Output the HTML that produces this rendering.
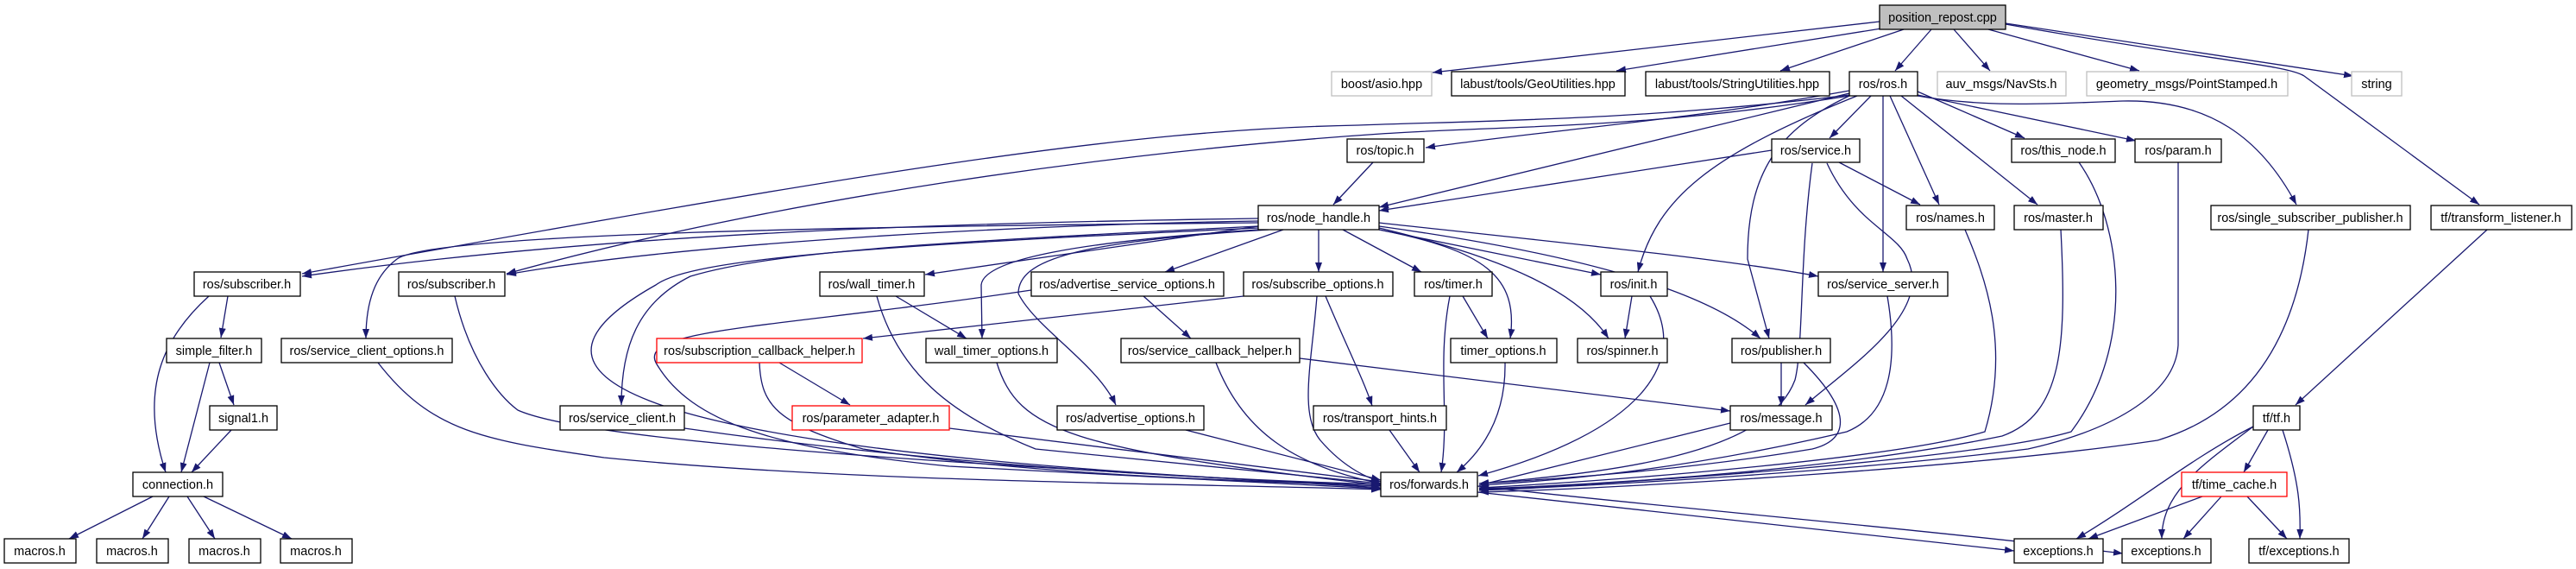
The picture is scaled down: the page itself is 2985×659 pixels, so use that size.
<!DOCTYPE html>
<html><head><meta charset="utf-8"><style>
html,body{margin:0;padding:0;background:#fff;}
svg{display:block;}
text{font-family:"Liberation Sans","DejaVu Sans",sans-serif;font-size:14.5px;fill:#000;text-anchor:middle;}
.e{fill:none;stroke:#191970;stroke-width:1.3;marker-end:url(#a);}
.n rect{fill:#fff;stroke:#000;stroke-width:1.3;}
.g rect{fill:#fff;stroke:#bfbfbf;stroke-width:1.3;}
.r rect{fill:#fff;stroke:#ff0000;stroke-width:1.3;}
</style></head><body>
<svg width="2985" height="659" viewBox="0 0 2985 659" xmlns="http://www.w3.org/2000/svg">
<defs><marker id="a" markerUnits="userSpaceOnUse" markerWidth="11" markerHeight="8" refX="11" refY="4" orient="auto"><path d="M0,0 L11,4 L0,8 z" fill="#191970"/></marker></defs>
<g>
<path class="e" d="M2178,25 L1660,84"/>
<path class="e" d="M2180,33 L1873,82"/>
<path class="e" d="M2206,34 L2063,82"/>
<path class="e" d="M2238,34 L2196,82"/>
<path class="e" d="M2264,34 L2306,82"/>
<path class="e" d="M2304,34 L2479,82"/>
<path class="e" d="M2324,27 L2727,88"/>
<path class="e" d="M2324,28 C2560,70 2650,75 2670,88 L2873,237"/>
<path class="e" d="M2143,110 C1900,140 1700,140 1574,145 C1300,150 1000,200 350,317"/>
<path class="e" d="M2143,111 C1900,150 1750,145 1600,155 C1300,175 900,230 587,317"/>
<path class="e" d="M2143,105 C1950,140 1800,150 1652,171"/>
<path class="e" d="M2143,108 L1598,240"/>
<path class="e" d="M2168,111 L2120,160"/>
<path class="e" d="M2152,111 C1980,180 1920,230 1898,315"/>
<path class="e" d="M2143,111 C2060,150 2025,200 2025,300 L2050,392"/>
<path class="e" d="M2182,111 L2182,315"/>
<path class="e" d="M2190,111 L2247,237"/>
<path class="e" d="M2203,111 L2361,237"/>
<path class="e" d="M2222,106 L2346,160"/>
<path class="e" d="M2222,110 L2475,163"/>
<path class="e" d="M2222,111 C2300,125 2380,120 2460,117 C2560,115 2620,160 2661,237"/>
<path class="e" d="M2053,174 L1598,244"/>
<path class="e" d="M2131,188 L2225,237"/>
<path class="e" d="M2117,189 C2150,260 2200,270 2210,300 C2240,360 2150,420 2092,469"/>
<path class="e" d="M2100,189 C2085,300 2090,400 2080,440 C2050,520 1900,545 1714,560"/>
<path class="e" d="M1591,188 L1545,237"/>
<path class="e" d="M1458,253 C1100,258 700,270 350,320"/>
<path class="e" d="M1458,256 C1200,260 800,280 587,318"/>
<path class="e" d="M1458,262 L1072,318"/>
<path class="e" d="M1458,258 C1000,262 500,270 460,300 C440,315 424,340 424,392"/>
<path class="e" d="M1458,262 C1100,280 900,290 800,320 C740,350 720,400 720,469"/>
<path class="e" d="M1458,264 C1000,285 800,300 760,330 C600,420 620,520 1600,563"/>
<path class="e" d="M1487,266 L1350,315"/>
<path class="e" d="M1528,266 L1528,315"/>
<path class="e" d="M1556,266 L1647,315"/>
<path class="e" d="M1598,266 L1855,318"/>
<path class="e" d="M1598,258 C1800,280 2000,300 2107,320"/>
<path class="e" d="M1598,262 C1800,290 1970,330 2040,392"/>
<path class="e" d="M1598,264 C1750,300 1830,340 1864,392"/>
<path class="e" d="M1598,266 C1720,290 1760,320 1750,392"/>
<path class="e" d="M1458,266 C1250,280 1140,300 1137,330 L1138,392"/>
<path class="e" d="M1470,266 C1250,280 1180,300 1180,340 C1200,380 1270,420 1293,469"/>
<path class="e" d="M527,343 C545,420 580,460 600,475 C700,520 1300,545 1600,565"/>
<path class="e" d="M438,420 C500,500 560,510 700,530 C1000,560 1400,560 1600,567"/>
<path class="e" d="M903,420 L985,469"/>
<path class="e" d="M880,420 C882,470 900,490 1000,520 C1200,550 1400,555 1600,563"/>
<path class="e" d="M1100,496 L1600,558"/>
<path class="e" d="M793,496 C1100,540 1400,555 1600,561"/>
<path class="e" d="M1016,343 C1040,430 1100,480 1200,520 L1600,560"/>
<path class="e" d="M1038,343 L1120,392"/>
<path class="e" d="M1155,420 C1180,500 1240,520 1600,562"/>
<path class="e" d="M1325,343 L1380,392"/>
<path class="e" d="M1195,336 C900,380 740,380 760,420 C800,490 900,520 1100,540 L1600,566"/>
<path class="e" d="M1441,343 L1000,392"/>
<path class="e" d="M1536,343 C1560,400 1580,440 1590,470"/>
<path class="e" d="M1526,343 C1520,420 1505,480 1530,510 C1560,545 1590,555 1600,558"/>
<path class="e" d="M1409,420 C1440,500 1500,540 1600,560"/>
<path class="e" d="M1506,415 L2005,476"/>
<path class="e" d="M1374,498 L1600,556"/>
<path class="e" d="M1610,498 L1645,547"/>
<path class="e" d="M1695,343 L1724,392"/>
<path class="e" d="M1680,343 C1665,420 1680,480 1670,547"/>
<path class="e" d="M1744,420 C1745,480 1720,520 1688,547"/>
<path class="e" d="M1891,343 L1883,392"/>
<path class="e" d="M1912,343 C1960,420 1900,500 1713,551"/>
<path class="e" d="M2064,420 L2064,470"/>
<path class="e" d="M2090,420 C2150,480 2140,510 2100,520 C1950,545 1800,555 1714,560"/>
<path class="e" d="M2005,490 L1714,562"/>
<path class="e" d="M2187,343 C2200,420 2190,480 2140,500 C1950,545 1800,557 1714,562"/>
<path class="e" d="M2277,266 C2300,320 2330,400 2300,500 C2200,530 1900,555 1714,565"/>
<path class="e" d="M2388,266 C2395,400 2390,480 2320,505 C2150,540 1900,560 1714,566"/>
<path class="e" d="M2409,188 C2460,260 2475,400 2400,500 C2300,530 1900,560 1714,567"/>
<path class="e" d="M2524,188 L2524,400 C2520,460 2440,500 2350,520 C2150,545 1900,560 1714,568"/>
<path class="e" d="M2675,266 C2660,400 2600,480 2500,510 C2300,540 1900,565 1714,570"/>
<path class="e" d="M1712,570 L2334,638"/>
<path class="e" d="M1712,563 C1900,585 2200,610 2460,641"/>
<path class="e" d="M2882,266 L2660,469"/>
<path class="e" d="M2628,498 L2600,547"/>
<path class="e" d="M2611,494 C2540,530 2480,580 2406,624"/>
<path class="e" d="M2611,494 C2550,540 2505,570 2505,624"/>
<path class="e" d="M2645,498 C2665,560 2666,590 2665,624"/>
<path class="e" d="M2552,575 L2420,624"/>
<path class="e" d="M2574,575 L2530,624"/>
<path class="e" d="M2604,575 L2650,624"/>
<path class="e" d="M264,343 L256,391"/>
<path class="e" d="M242,343 C190,390 160,450 192,547"/>
<path class="e" d="M254,420 L271,469"/>
<path class="e" d="M243,420 L210,547"/>
<path class="e" d="M268,498 L222,547"/>
<path class="e" d="M177,575 L80,624"/>
<path class="e" d="M196,575 L165,624"/>
<path class="e" d="M217,575 L249,624"/>
<path class="e" d="M236,575 L338,624"/>
</g>
<g class="n"><rect x="2178" y="6" width="146" height="28" style="fill:#bfbfbf"/><text x="2251" y="25">position_repost.cpp</text></g>
<g class="g"><rect x="1543" y="83" width="116" height="28"/><text x="1601" y="102">boost/asio.hpp</text></g>
<g class="n"><rect x="1682" y="83" width="201" height="28"/><text x="1782" y="102">labust/tools/GeoUtilities.hpp</text></g>
<g class="n"><rect x="1907" y="83" width="213" height="28"/><text x="2013" y="102">labust/tools/StringUtilities.hpp</text></g>
<g class="n"><rect x="2143" y="83" width="79" height="28"/><text x="2182" y="102">ros/ros.h</text></g>
<g class="g"><rect x="2245" y="83" width="149" height="28"/><text x="2319" y="102">auv_msgs/NavSts.h</text></g>
<g class="g"><rect x="2418" y="83" width="233" height="28"/><text x="2534" y="102">geometry_msgs/PointStamped.h</text></g>
<g class="g"><rect x="2725" y="83" width="58" height="28"/><text x="2754" y="102">string</text></g>
<g class="n"><rect x="1561" y="161" width="89" height="27"/><text x="1605" y="179">ros/topic.h</text></g>
<g class="n"><rect x="2053" y="161" width="102" height="27"/><text x="2104" y="179">ros/service.h</text></g>
<g class="n"><rect x="2331" y="161" width="120" height="27"/><text x="2391" y="179">ros/this_node.h</text></g>
<g class="n"><rect x="2474" y="161" width="100" height="27"/><text x="2524" y="179">ros/param.h</text></g>
<g class="n"><rect x="1458" y="238" width="140" height="28"/><text x="1528" y="257">ros/node_handle.h</text></g>
<g class="n"><rect x="2209" y="238" width="102" height="28"/><text x="2260" y="257">ros/names.h</text></g>
<g class="n"><rect x="2334" y="238" width="103" height="28"/><text x="2385" y="257">ros/master.h</text></g>
<g class="n"><rect x="2562" y="238" width="231" height="28"/><text x="2677" y="257">ros/single_subscriber_publisher.h</text></g>
<g class="n"><rect x="2817" y="238" width="163" height="28"/><text x="2898" y="257">tf/transform_listener.h</text></g>
<g class="n"><rect x="225" y="315" width="123" height="28"/><text x="286" y="334">ros/subscriber.h</text></g>
<g class="n"><rect x="462" y="315" width="123" height="28"/><text x="523" y="334">ros/subscriber.h</text></g>
<g class="n"><rect x="950" y="315" width="121" height="28"/><text x="1010" y="334">ros/wall_timer.h</text></g>
<g class="n"><rect x="1195" y="315" width="223" height="28"/><text x="1306" y="334">ros/advertise_service_options.h</text></g>
<g class="n"><rect x="1441" y="315" width="173" height="28"/><text x="1527" y="334">ros/subscribe_options.h</text></g>
<g class="n"><rect x="1639" y="315" width="90" height="28"/><text x="1684" y="334">ros/timer.h</text></g>
<g class="n"><rect x="1855" y="315" width="77" height="28"/><text x="1893" y="334">ros/init.h</text></g>
<g class="n"><rect x="2107" y="315" width="150" height="28"/><text x="2182" y="334">ros/service_server.h</text></g>
<g class="n"><rect x="193" y="392" width="110" height="28"/><text x="248" y="411">simple_filter.h</text></g>
<g class="n"><rect x="326" y="392" width="198" height="28"/><text x="425" y="411">ros/service_client_options.h</text></g>
<g class="r"><rect x="761" y="392" width="238" height="28"/><text x="880" y="411">ros/subscription_callback_helper.h</text></g>
<g class="n"><rect x="1073" y="392" width="152" height="28"/><text x="1149" y="411">wall_timer_options.h</text></g>
<g class="n"><rect x="1299" y="392" width="207" height="28"/><text x="1402" y="411">ros/service_callback_helper.h</text></g>
<g class="n"><rect x="1681" y="392" width="123" height="28"/><text x="1742" y="411">timer_options.h</text></g>
<g class="n"><rect x="1828" y="392" width="104" height="28"/><text x="1880" y="411">ros/spinner.h</text></g>
<g class="n"><rect x="2007" y="392" width="114" height="28"/><text x="2064" y="411">ros/publisher.h</text></g>
<g class="n"><rect x="243" y="470" width="78" height="28"/><text x="282" y="489">signal1.h</text></g>
<g class="n"><rect x="649" y="470" width="144" height="28"/><text x="721" y="489">ros/service_client.h</text></g>
<g class="r"><rect x="918" y="470" width="182" height="28"/><text x="1009" y="489">ros/parameter_adapter.h</text></g>
<g class="n"><rect x="1225" y="470" width="170" height="28"/><text x="1310" y="489">ros/advertise_options.h</text></g>
<g class="n"><rect x="1522" y="470" width="154" height="28"/><text x="1599" y="489">ros/transport_hints.h</text></g>
<g class="n"><rect x="2005" y="470" width="118" height="28"/><text x="2064" y="489">ros/message.h</text></g>
<g class="n"><rect x="2611" y="470" width="54" height="28"/><text x="2638" y="489">tf/tf.h</text></g>
<g class="n"><rect x="154" y="547" width="104" height="28"/><text x="206" y="566">connection.h</text></g>
<g class="n"><rect x="1600" y="547" width="112" height="28"/><text x="1656" y="566">ros/forwards.h</text></g>
<g class="r"><rect x="2528" y="547" width="122" height="28"/><text x="2589" y="566">tf/time_cache.h</text></g>
<g class="n"><rect x="5" y="624" width="83" height="28"/><text x="46" y="643">macros.h</text></g>
<g class="n"><rect x="112" y="624" width="83" height="28"/><text x="153" y="643">macros.h</text></g>
<g class="n"><rect x="219" y="624" width="83" height="28"/><text x="260" y="643">macros.h</text></g>
<g class="n"><rect x="325" y="624" width="83" height="28"/><text x="366" y="643">macros.h</text></g>
<g class="n"><rect x="2334" y="624" width="103" height="28"/><text x="2385" y="643">exceptions.h</text></g>
<g class="n"><rect x="2459" y="624" width="103" height="28"/><text x="2510" y="643">exceptions.h</text></g>
<g class="n"><rect x="2606" y="624" width="116" height="28"/><text x="2664" y="643">tf/exceptions.h</text></g>
</svg>
</body></html>
